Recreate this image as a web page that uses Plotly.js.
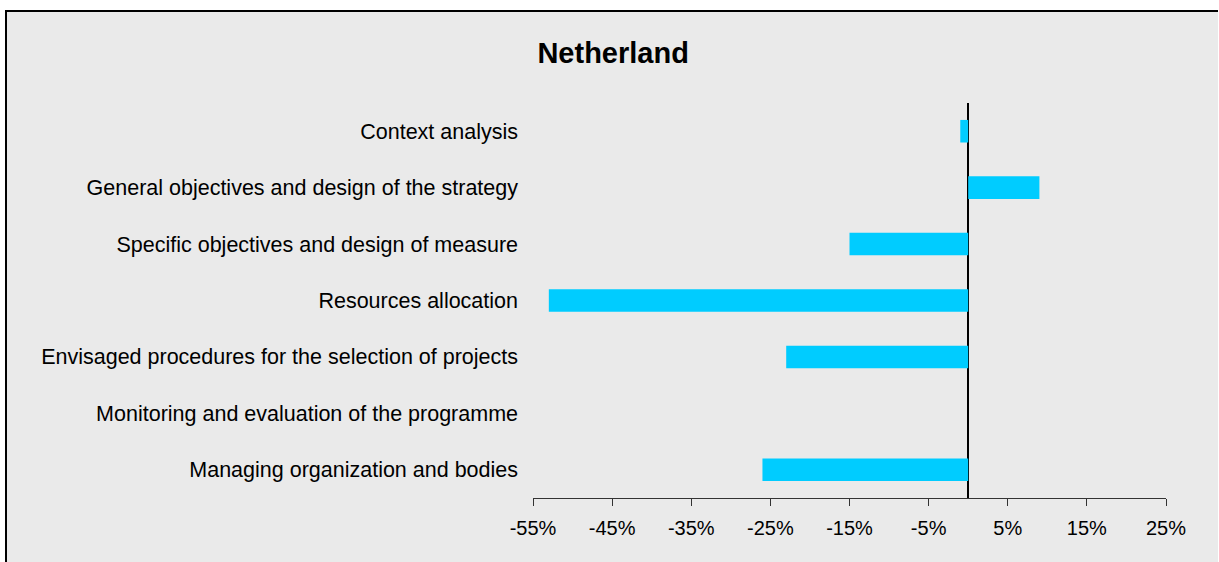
<!DOCTYPE html>
<html>
<head>
<meta charset="utf-8">
<script src="https://cdn.plot.ly/plotly-3.0.1.min.js"></script>
<style>
  html, body { margin: 0; padding: 0; background: #ffffff; width: 1219px; height: 562px; overflow: hidden; }
  #frame { position: absolute; left: 5px; top: 10px; width: 1211px; height: 560px;
           background: #eaeaea; border-left: 2px solid #000; border-top: 2px solid #000; }
  #chart { position: absolute; left: 0; top: 0; width: 1219px; height: 562px; }
</style>
</head>
<body>
<div id="frame"></div>
<div id="chart"></div>
<script>
const categories = [
  "Context analysis",
  "General objectives and design of the strategy",
  "Specific objectives and design of measure",
  "Resources allocation",
  "Envisaged procedures for the selection of projects",
  "Monitoring and evaluation of the programme",
  "Managing organization and bodies"
];
const values = [-1, 9, -15, -53, -23, 0, -26];
const tickValues = [-55, -45, -35, -25, -15, -5, 5, 15, 25];
const tickLabels = ["-55%", "-45%", "-35%", "-25%", "-15%", "-5%", "5%", "15%", "25%"];

const trace = {
  type: "bar",
  orientation: "h",
  y: categories,
  x: values,
  marker: { color: "#00ccff", line: { width: 0 } },
  hoverinfo: "skip"
};

const layout = {
  width: 1219,
  height: 562,
  paper_bgcolor: "rgba(0,0,0,0)",
  plot_bgcolor: "rgba(0,0,0,0)",
  margin: { l: 533, r: 53, t: 103, b: 64, pad: 0 },
  showlegend: false,
  bargap: 0.6,
  font: { family: "Liberation Sans, Arial, sans-serif", color: "#000000" },
  title: {
    text: "<b>Netherland</b>",
    font: { size: 29, family: "Liberation Sans, Arial, sans-serif", color: "#000000" },
    xref: "container", yref: "container",
    x: 0.503, y: 1 - 53 / 562,
    xanchor: "center", yanchor: "middle"
  },
  xaxis: {
    range: [-55, 25],
    tickvals: tickValues,
    ticktext: tickLabels,
    showgrid: false,
    zeroline: true,
    zerolinecolor: "#000000",
    zerolinewidth: 1.5,
    showline: true,
    linecolor: "#333333",
    linewidth: 1,
    ticks: "outside",
    ticklen: 7,
    tickwidth: 1,
    tickcolor: "#333333",
    ticklabelstandoff: 5,
    tickfont: { size: 20, color: "#000000" },
    fixedrange: true
  },
  yaxis: {
    type: "category",
    categoryorder: "array",
    categoryarray: categories,
    autorange: "reversed",
    showgrid: false,
    zeroline: false,
    showline: false,
    ticks: "",
    ticklabelstandoff: 14,
    tickfont: { size: 21.5, color: "#000000" },
    fixedrange: true
  }
};

Plotly.newPlot("chart", [trace], layout, { staticPlot: true, displayModeBar: false });
</script>
</body>
</html>
